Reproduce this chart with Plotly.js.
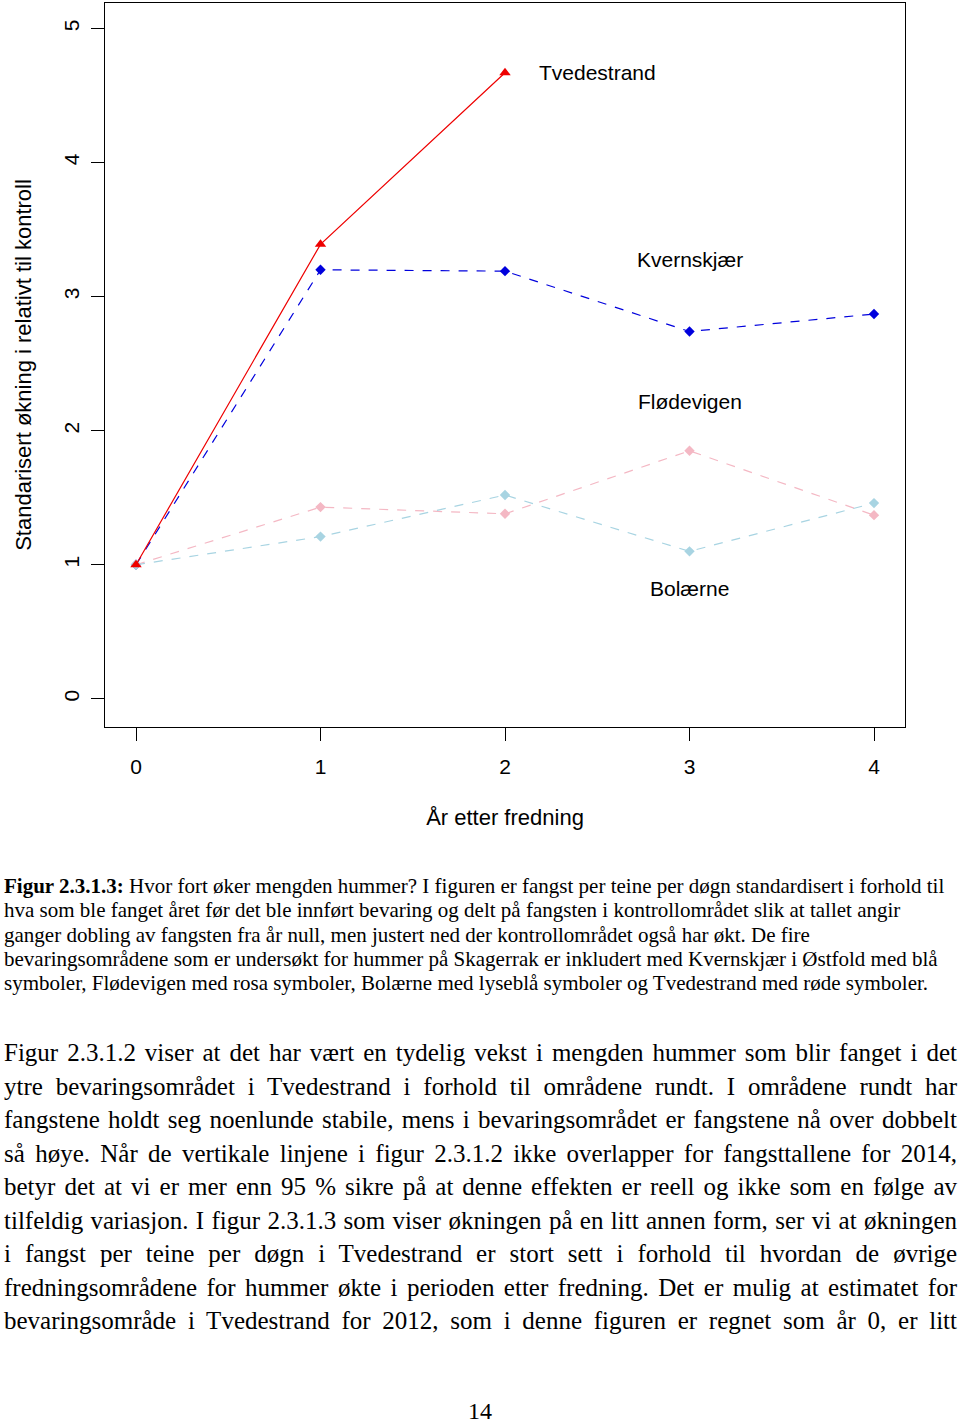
<!DOCTYPE html>
<html>
<head>
<meta charset="utf-8">
<script src="https://cdn.plot.ly/plotly-3.0.1.min.js"></script>
<style>
body { margin: 0; background: #fff; width: 960px; height: 1426px; position: relative; overflow: hidden; }
#graph { position: absolute; left: 0; top: 0; width: 960px; height: 850px; }
.cap { position: absolute; left: 4px; font-family: "Liberation Serif", serif; font-size: 21px; white-space: nowrap; color: #000; }
.par { position: absolute; left: 4px; width: 953px; font-family: "Liberation Serif", serif; font-size: 25px; white-space: nowrap; color: #000; text-align: justify; text-align-last: justify; }
#page { position: absolute; left: 0; width: 960px; top: 1398px; text-align: center; font-family: "Liberation Serif", serif; font-size: 24px; }
</style>
</head>
<body>
<div id="graph"></div>
<div id="caption"></div>
<div id="body"></div>
<div id="page">14</div>
<script>
// år etter fredning
let years = [0, 1, 2, 3, 4]
let tvedestrand = [1.0, 3.39, 4.67]
let kvernskjaer = [1.0, 3.20, 3.19, 2.74, 2.87]
let flodevigen = [1.0, 1.43, 1.38, 1.85, 1.37]
let bolaerne = [1.0, 1.21, 1.52, 1.10, 1.46]

let labels = ['Tvedestrand', 'Kvernskjær', 'Flødevigen', 'Bolærne']
let labelX = [2.5, 3.0, 3.0, 3.0]
let labelY = [4.67, 3.28, 2.22, 0.82]

let captionLines = [
    '<b>Figur 2.3.1.3:</b> Hvor fort øker mengden hummer? I figuren er fangst per teine per døgn standardisert i forhold til',
    'hva som ble fanget året før det ble innført bevaring og delt på fangsten i kontrollområdet slik at tallet angir',
    'ganger dobling av fangsten fra år null, men justert ned der kontrollområdet også har økt. De fire',
    'bevaringsområdene som er undersøkt for hummer på Skagerrak er inkludert med Kvernskjær i Østfold med blå',
    'symboler, Flødevigen med rosa symboler, Bolærne med lyseblå symboler og Tvedestrand med røde symboler.'
]
let bodyLines = [
    'Figur 2.3.1.2 viser at det har vært en tydelig vekst i mengden hummer som blir fanget i det',
    'ytre bevaringsområdet i Tvedestrand i forhold til områdene rundt. I områdene rundt har',
    'fangstene holdt seg noenlunde stabile, mens i bevaringsområdet er fangstene nå over dobbelt',
    'så høye. Når de vertikale linjene i figur 2.3.1.2 ikke overlapper for fangsttallene for 2014,',
    'betyr det at vi er mer enn 95 % sikre på at denne effekten er reell og ikke som en følge av',
    'tilfeldig variasjon. I figur 2.3.1.3 som viser økningen på en litt annen form, ser vi at økningen',
    'i fangst per teine per døgn i Tvedestrand er stort sett i forhold til hvordan de øvrige',
    'fredningsområdene for hummer økte i perioden etter fredning. Det er mulig at estimatet for',
    'bevaringsområde i Tvedestrand for 2012, som i denne figuren er regnet som år 0, er litt'
]

let cap = document.getElementById('caption')
captionLines.forEach((t, i) => {
    let d = document.createElement('div')
    d.className = 'cap'
    d.style.top = (874 + i * 24.3) + 'px'
    d.innerHTML = t
    cap.appendChild(d)
})
let body = document.getElementById('body')
bodyLines.forEach((t, i) => {
    let d = document.createElement('div')
    d.className = 'par'
    d.style.top = (1039 + i * 33.5) + 'px'
    d.textContent = t
    body.appendChild(d)
})

let font = 'Liberation Sans, Arial, sans-serif'

let traces = [
    { x: years.slice(0, 3), y: tvedestrand, type: 'scatter', mode: 'lines+markers',
      line: { color: '#ee0000', width: 1.2 }, marker: { symbol: 'triangle-up', size: 10, color: '#ee0000' } },
    { x: years, y: kvernskjaer, type: 'scatter', mode: 'lines+markers',
      line: { color: '#0000dd', width: 1.2, dash: 'dash' }, marker: { symbol: 'diamond', size: 8, color: '#0000dd' } },
    { x: years, y: flodevigen, type: 'scatter', mode: 'lines+markers',
      line: { color: '#f4b8c4', width: 1.2, dash: 'dash' }, marker: { symbol: 'diamond', size: 8, color: '#f4b8c4' } },
    { x: years, y: bolaerne, type: 'scatter', mode: 'lines+markers',
      line: { color: '#a8d4e2', width: 1.2, dash: 'dash' }, marker: { symbol: 'diamond', size: 8, color: '#a8d4e2' } }
]
// rød linje tegnes øverst
traces.push(traces.shift())

let annotations = labels.map((t, i) => ({
    x: labelX[i], y: labelY[i], xref: 'x', yref: 'y', text: t, showarrow: false,
    font: { family: font, size: 21, color: '#000' }
}))

Plotly.newPlot('graph', traces, {
    width: 960, height: 850,
    margin: { l: 105, r: 55, t: 3, b: 123 },
    showlegend: false,
    paper_bgcolor: '#fff', plot_bgcolor: '#fff',
    font: { family: font, color: '#000' },
    xaxis: {
        range: [-0.168, 4.168], tickvals: years, ticks: 'outside', ticklen: 13, tickcolor: '#000',
        showline: true, mirror: true, linecolor: '#000', linewidth: 1.3, showgrid: false, zeroline: false,
        tickfont: { size: 21 }, ticklabelstandoff: 8,
        title: { text: 'År etter fredning', font: { size: 22 }, standoff: 32 }
    },
    yaxis: {
        range: [-0.21, 5.19], tickvals: [0, 1, 2, 3, 4, 5], ticks: 'outside', ticklen: 13, tickcolor: '#000',
        showline: true, mirror: true, linecolor: '#000', linewidth: 1.3, showgrid: false, zeroline: false,
        tickfont: { size: 21 }, tickangle: -90, ticklabelstandoff: 3,
        title: { text: 'Standarisert økning i relativt til kontroll', font: { size: 22 }, standoff: 22 }
    },
    annotations
}, { displayModeBar: false })
</script>
</body>
</html>
